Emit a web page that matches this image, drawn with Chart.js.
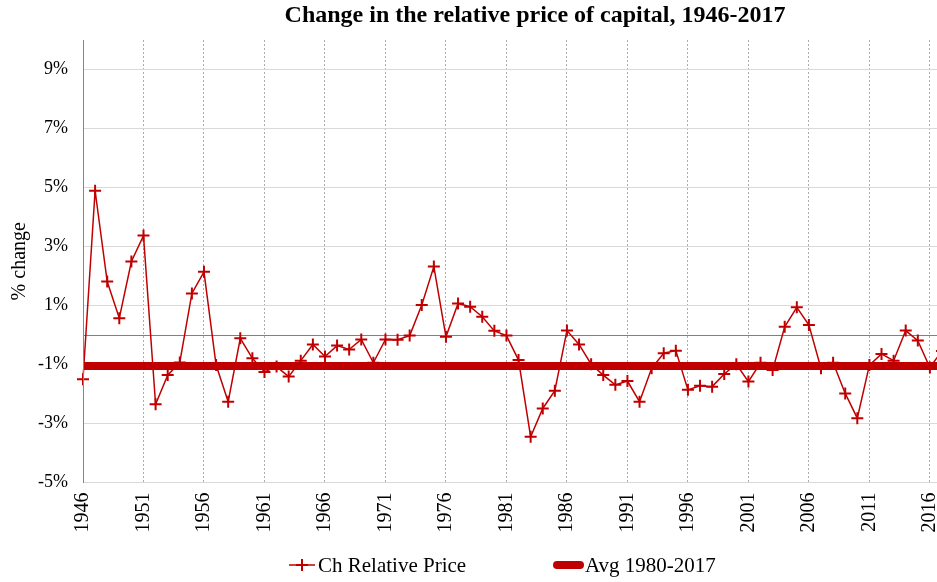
<!DOCTYPE html>
<html>
<head>
<meta charset="utf-8">
<script src="https://cdn.jsdelivr.net/npm/chart.js@4.4.1/dist/chart.umd.min.js"></script>
<style>
html,body{margin:0;padding:0;background:#fff;overflow:hidden;}
#wrap{width:1070px;height:582px;position:relative;}
</style>
</head>
<body>
<div id="wrap"><canvas id="c" width="1070" height="582"></canvas></div>
<script>
// ---- data ----
const years = [1946,1947,1948,1949,1950,1951,1952,1953,1954,1955,1956,1957,1958,1959,1960,1961,1962,1963,1964,1965,1966,1967,1968,1969,1970,1971,1972,1973,1974,1975,1976,1977,1978,1979,1980,1981,1982,1983,1984,1985,1986,1987,1988,1989,1990,1991,1992,1993,1994,1995,1996,1997,1998,1999,2000,2001,2002,2003,2004,2005,2006,2007,2008,2009,2010,2011,2012,2013,2014,2015,2016,2017];
const relPriceChange = [-1.50,4.89,1.81,0.57,2.49,3.37,-2.35,-1.36,-0.93,1.41,2.14,-1.02,-2.26,-0.11,-0.79,-1.25,-1.07,-1.41,-0.87,-0.32,-0.73,-0.36,-0.49,-0.15,-0.94,-0.15,-0.16,-0.02,1.02,2.32,-0.06,1.07,0.96,0.62,0.14,-0.02,-0.85,-3.45,-2.49,-1.89,0.15,-0.32,-0.99,-1.36,-1.69,-1.56,-2.26,-1.13,-0.62,-0.53,-1.86,-1.72,-1.75,-1.32,-0.99,-1.58,-0.94,-1.19,0.28,0.94,0.34,-1.13,-0.94,-1.98,-2.82,-1.02,-0.64,-0.87,0.15,-0.19,-1.10,-0.54];
const avg1980to2017 = -1.05;
const avgSpan = [1946, 2017];
const xTickYears = [1946,1951,1956,1961,1966,1971,1976,1981,1986,1991,1996,2001,2006,2011,2016];
const yTickValues = [-5,-3,-1,0,1,3,5,7,9,10];
const yTickLabels = {"-5":"-5%","-3":"-3%","-1":"-1%","1":"1%","3":"3%","5":"5%","7":"7%","9":"9%"};
const seriesNames = ["Ch Relative Price","Avg 1980-2017"];
const titleText = "Change in the relative price of capital, 1946-2017";

const RED = '#C00000';
const FONT = "'Liberation Serif','Times New Roman',serif";

const legendPlugin = {
  id: 'xlLegend',
  afterDraw(chart, args, o) {
    const ctx = chart.ctx;
    ctx.save();
    ctx.font = o.fontSize + 'px ' + FONT;
    ctx.fillStyle = '#000';
    ctx.textBaseline = 'middle';
    const y = o.y;
    o.items.forEach((it, i) => {
      const ds = chart.data.datasets[i];
      ctx.strokeStyle = ds.borderColor;
      if (it.kind === 'cross') {
        ctx.lineWidth = 1.5;
        ctx.beginPath(); ctx.moveTo(it.x, y); ctx.lineTo(it.x + it.w, y); ctx.stroke();
        const cx = it.x + it.w / 2;
        ctx.lineWidth = 2;
        ctx.beginPath(); ctx.moveTo(cx - 6, y); ctx.lineTo(cx + 6, y);
        ctx.moveTo(cx, y - 6); ctx.lineTo(cx, y + 6); ctx.stroke();
      } else {
        ctx.lineWidth = 8; ctx.lineCap = 'round';
        ctx.beginPath(); ctx.moveTo(it.x + 4, y); ctx.lineTo(it.x + it.w - 4, y); ctx.stroke();
        ctx.lineCap = 'butt';
      }
      ctx.fillText(ds.label, it.x + it.w + it.gap, y + 1);
    });
    ctx.restore();
  }
};

new Chart(document.getElementById('c'), {
  type: 'line',
  data: {
    datasets: [
      {
        label: seriesNames[0],
        data: years.map((yr, i) => ({x: yr, y: relPriceChange[i]})),
        borderColor: RED,
        backgroundColor: RED,
        borderWidth: 1.5,
        pointStyle: 'cross',
        pointRadius: 6,
        pointBorderWidth: 2,
        pointHoverRadius: 6,
        tension: 0,
        order: 2
      },
      {
        label: seriesNames[1],
        data: avgSpan.map(yr => ({x: yr, y: avg1980to2017})),
        borderColor: RED,
        backgroundColor: RED,
        borderWidth: 8,
        pointRadius: 0,
        tension: 0,
        order: 1
      }
    ]
  },
  options: {
    responsive: false,
    animation: false,
    devicePixelRatio: 1,
    layout: { padding: { left: 0, right: 0, top: 0, bottom: 49.5 } },
    clip: false,
    plugins: {
      legend: { display: false },
      tooltip: { enabled: false },
      title: {
        display: true,
        text: titleText,
        color: '#000',
        font: { family: FONT, size: 24, weight: 'bold', lineHeight: 1.1 },
        padding: { top: 3, bottom: 10.6 }
      },
      xlLegend: {
        fontSize: 21,
        y: 565,
        items: [
          { kind: 'cross', x: 289, w: 26, gap: 3 },
          { kind: 'thick', x: 553, w: 31, gap: 1 }
        ]
      }
    },
    scales: {
      x: {
        type: 'linear',
        min: years[0],
        max: years[years.length - 1],
        afterBuildTicks: s => { s.ticks = xTickYears.map(v => ({value: v})); },
        afterFit: s => { s.height = 50; },
        ticks: {
          autoSkip: false,
          minRotation: 90, maxRotation: 90,
          padding: 10,
          color: '#000',
          font: { family: FONT, size: 20 },
          callback: v => String(v)
        },
        grid: {
          drawTicks: false,
          color: '#ABABAB',
          lineWidth: 1
        },
        border: { display: false, dash: [2, 2] }
      },
      y: {
        type: 'linear',
        min: -5,
        max: 10,
        afterBuildTicks: s => { s.ticks = yTickValues.map(v => ({value: v})); },
        afterFit: s => { s.width = 83; },
        ticks: {
          autoSkip: false,
          padding: 15,
          color: '#000',
          font: { family: FONT, size: 18 },
          callback: v => (yTickLabels[String(v)] || '')
        },
        grid: {
          drawTicks: false,
          color: c => {
            const v = c.tick && c.tick.value;
            if (v === 0) return '#808080';
            if (v === 10) return 'rgba(0,0,0,0)';
            return '#D9D9D9';
          },
          lineWidth: 1
        },
        border: { display: true, color: '#868686', z: 1 },
        title: {
          display: true,
          text: '% change',
          color: '#000',
          font: { family: FONT, size: 20 },
          padding: { top: 8, bottom: 0 }
        }
      },
      yPad: {
        type: 'linear',
        position: 'right',
        min: -5,
        max: 10,
        afterFit: s => { s.width = 128; },
        ticks: { display: false },
        grid: { display: false, drawOnChartArea: false, drawTicks: false },
        border: { display: false }
      }
    }
  },
  plugins: [legendPlugin]
});
</script>
</body>
</html>
